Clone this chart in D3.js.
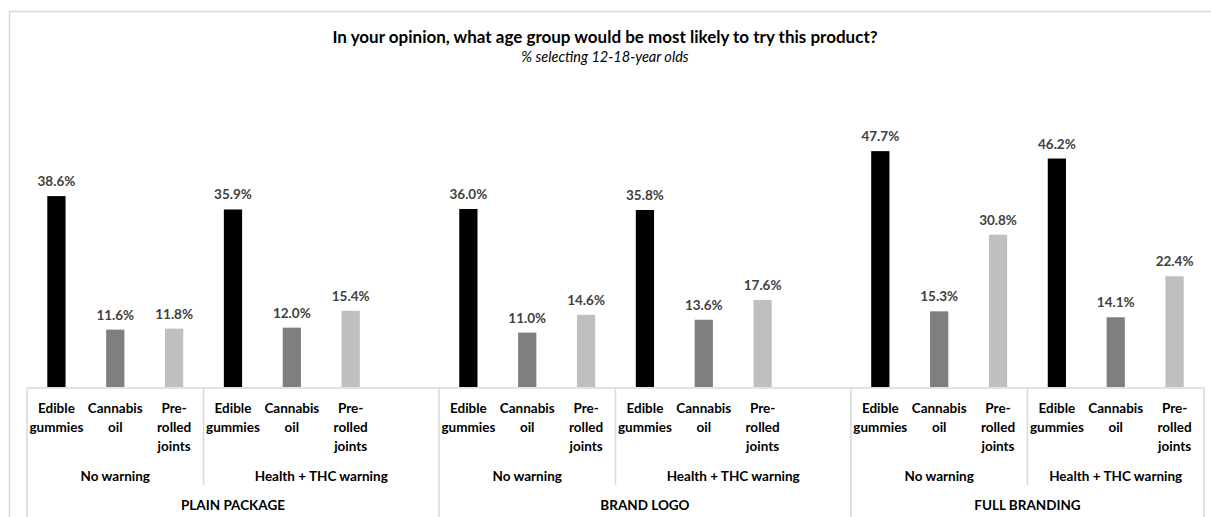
<!DOCTYPE html>
<html>
<head>
<meta charset="utf-8">
<script src="https://cdn.jsdelivr.net/npm/d3@7"></script>
<style>
  html, body { margin: 0; padding: 0; background: #fff; }
  svg { display: block; font-family: Lato, "Open Sans", sans-serif; }
</style>
</head>
<body>
<svg id="chart" width="1211" height="517"></svg>
<script>
// 數據
const packages = ['PLAIN PACKAGE', 'BRAND LOGO', 'FULL BRANDING'];
const warnings = ['No warning', 'Health + THC warning'];
const products = ['Edible gummies', 'Cannabis oil', 'Pre-rolled joints'];
const productLines = [['Edible', 'gummies'], ['Cannabis', 'oil'], ['Pre-', 'rolled', 'joints']];
const seriesColors = ['#000000', '#7f7f7f', '#bfbfbf'];

// 每個 [包裝][警告] 的百分比
const plainValues = [[38.6, 11.6, 11.8], [35.9, 12.0, 15.4]];
const logoValues = [[36.0, 11.0, 14.6], [35.8, 13.6, 17.6]];
const fullValues = [[47.7, 15.3, 30.8], [46.2, 14.1, 22.4]];
const allValues = [plainValues, logoValues, fullValues];

const title = 'In your opinion, what age group would be most likely to try this product?';
const subtitle = '% selecting 12-18-year olds';

// 建立類別槽位（每個包裝組之後有一個空槽，最後一組除外）
const slots = [];
packages.forEach((pkg, p) => {
    warnings.forEach((w, k) => {
        products.forEach((prod, i) => {
            slots.push({ id: `${p}-${k}-${i}`, pkg: p, warn: k, prod: i, value: allValues[p][k][i] });
        });
    });
    if (p < packages.length - 1) slots.push({ id: `${p}-gap`, pkg: p, warn: 1, prod: -1, value: null });
});

const svg = d3.select('#chart');
const margin = { left: 27, right: 7, baseline: 387 };

const x = d3.scaleBand()
    .domain(slots.map(d => d.id))
    .range([margin.left, 1211 - margin.right])
    .padding(0);

const y = d3.scaleLinear()
    .domain([0, 50])
    .range([margin.baseline, margin.baseline - 50 * 4.945]);

const bw = x.bandwidth();
const barW = bw * 0.31;
const lineColor = '#d9d9d9';

// 外框
svg.append('rect')
    .attr('x', 9.5).attr('y', 11.5)
    .attr('width', 1300).attr('height', 600)
    .attr('fill', 'none')
    .attr('stroke', lineColor)
    .attr('stroke-width', 1.5);

// 標題
svg.append('text')
    .attr('x', 605).attr('y', 43)
    .attr('text-anchor', 'middle')
    .attr('font-size', '17px')
    .attr('font-weight', 'bold')
    .attr('fill', '#000')
    .text(title);

svg.append('text')
    .attr('x', 605).attr('y', 62)
    .attr('text-anchor', 'middle')
    .attr('font-size', '14.5px')
    .attr('font-style', 'italic')
    .attr('fill', '#000')
    .text(subtitle);

// 柱子
const barData = slots.filter(d => d.value !== null);
svg.append('g').selectAll('rect')
    .data(barData)
    .join('rect')
    .attr('x', d => x(d.id) + (bw - barW) / 2)
    .attr('y', d => y(d.value))
    .attr('width', barW)
    .attr('height', d => y(0) - y(d.value))
    .attr('fill', d => seriesColors[d.prod]);

// 數值標籤
svg.append('g').selectAll('text')
    .data(barData)
    .join('text')
    .attr('x', d => x(d.id) + bw / 2)
    .attr('y', d => y(d.value) - 10)
    .attr('text-anchor', 'middle')
    .attr('font-size', '13.5px')
    .attr('font-weight', 'bold')
    .attr('fill', '#404040')
    .text(d => d.value.toFixed(1) + '%');

// 軸線
const axis = svg.append('g').attr('stroke', lineColor).attr('stroke-width', 1.5);
axis.append('line')
    .attr('x1', x.range()[0]).attr('x2', x.range()[1])
    .attr('y1', margin.baseline + 1).attr('y2', margin.baseline + 1);

// 包裝組分隔線（到底）
const pkgStarts = packages.map((_, p) => x(slots.find(s => s.pkg === p).id));
const pkgEdges = pkgStarts.concat([x.range()[1]]);
pkgEdges.forEach(px => {
    axis.append('line')
        .attr('x1', px).attr('x2', px)
        .attr('y1', margin.baseline + 1).attr('y2', 517);
});

// 警告組分隔線
packages.forEach((_, p) => {
    const s = slots.find(d => d.pkg === p && d.warn === 1);
    axis.append('line')
        .attr('x1', x(s.id)).attr('x2', x(s.id))
        .attr('y1', margin.baseline + 1).attr('y2', 485);
});

// 產品標籤
const catG = svg.append('g')
    .attr('font-size', '13.5px')
    .attr('font-weight', 'bold')
    .attr('fill', '#000')
    .attr('text-anchor', 'middle');

barData.forEach(d => {
    productLines[d.prod].forEach((line, li) => {
        catG.append('text')
            .attr('x', x(d.id) + bw / 2)
            .attr('y', 413 + li * 19)
            .text(line);
    });
});

// 警告標籤
packages.forEach((_, p) => {
    warnings.forEach((w, k) => {
        const ids = slots.filter(d => d.pkg === p && d.warn === k);
        const x0 = x(ids[0].id);
        const x1 = x(ids[ids.length - 1].id) + bw;
        catG.append('text')
            .attr('x', (x0 + x1) / 2)
            .attr('y', 481)
            .text(w);
    });
    catG.append('text')
        .attr('x', (pkgEdges[p] + pkgEdges[p + 1]) / 2)
        .attr('y', 510)
        .text(packages[p]);
});
</script>
</body>
</html>
